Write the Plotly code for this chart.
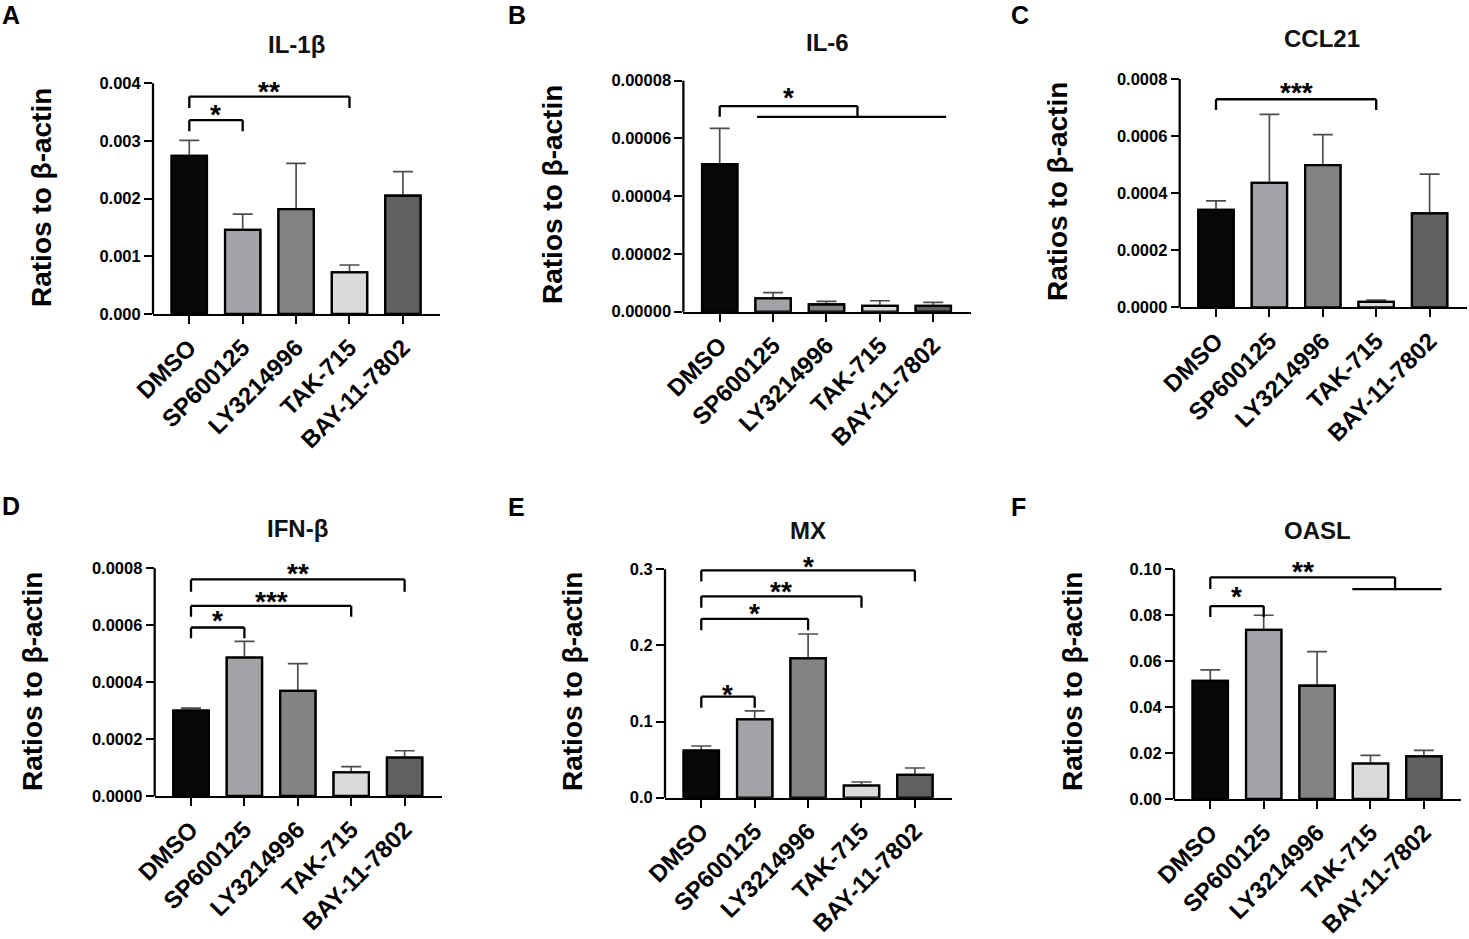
import plotly.graph_objects as go

W, H = 1469, 939
FONT = "Liberation Sans"

groups = ["DMSO", "SP600125", "LY3214996", "TAK-715", "BAY-11-7802"]
bar_colors = ["#070909", "#a3a3a7", "#828483", "#d9dbda", "#5f605f"]

# mean value and top of the error bar for each treatment
il1b_mean = [0.00274, 0.00146, 0.00182, 0.00072, 0.00205]
il1b_top = [0.00301, 0.00173, 0.00261, 0.00085, 0.00247]
il1b_ticks = [0, 0.001, 0.002, 0.003, 0.004]

il6_mean = [0.0000511, 0.0000046, 0.0000025, 0.0000020, 0.0000020]
il6_top = [0.0000635, 0.0000066, 0.0000036, 0.0000038, 0.0000032]
il6_ticks = [0, 0.00002, 0.00004, 0.00006, 0.00008]

ccl21_mean = [0.000341, 0.000436, 0.000498, 0.0000187, 0.000329]
ccl21_top = [0.000373, 0.000676, 0.000605, 0.000025, 0.000467]
ccl21_ticks = [0, 0.0002, 0.0004, 0.0006, 0.0008]

ifnb_mean = [0.000300, 0.000486, 0.000369, 0.0000832, 0.000135]
ifnb_top = [0.000309, 0.000543, 0.000465, 0.000103, 0.000159]
ifnb_ticks = [0, 0.0002, 0.0004, 0.0006, 0.0008]

mx_mean = [0.0618, 0.103, 0.183, 0.0158, 0.030]
mx_top = [0.0679, 0.114, 0.215, 0.0206, 0.039]
mx_ticks = [0, 0.1, 0.2, 0.3]

oasl_mean = [0.0514, 0.0736, 0.0493, 0.0154, 0.0186]
oasl_top = [0.0562, 0.080, 0.0642, 0.019, 0.0212]
oasl_ticks = [0, 0.02, 0.04, 0.06, 0.08, 0.10]

# significance brackets: (from, to, bracket y, leg end y, stars, star y)
il1b_sig = [(0, 1, 0.00336, 0.00317, "*", 0.00357),
            (0, 3, 0.00377, 0.00357, "**", 0.00397)]
il6_sig = [(0, 2.58, 0.0000712, 0.0000675, "*", 0.0000762)]
il6_group = [(0.70, 4.24, 0.0000675)]
ccl21_sig = [(0, 3, 0.000729, 0.000691, "***", 0.000775)]
ifnb_sig = [(0, 1, 0.000592, 0.000554, "*", 0.000636),
            (0, 3, 0.000668, 0.000630, "***", 0.000703),
            (0, 4, 0.000761, 0.000718, "**", 0.000802)]
mx_sig = [(0, 1, 0.1327, 0.118, "*", 0.144),
          (0, 2, 0.235, 0.220, "*", 0.250),
          (0, 3, 0.2645, 0.2496, "**", 0.279),
          (0, 4, 0.2987, 0.284, "*", 0.312)]
oasl_sig = [(0, 1, 0.084, 0.0792, "*", 0.0906),
            (0, 3.46, 0.0965, 0.0914, "**", 0.1015)]
oasl_group = [(2.66, 4.33, 0.0914)]

# pixel placement of each panel (DMSO bar centre, y=0 line, top tick)
panels = [
    dict(letter="A", title="IL-1β", mean=il1b_mean, top=il1b_top, ticks=il1b_ticks, fmt=".3f",
         sig=il1b_sig, grp=[], dmso=189.3, base=314, ytop=83.3,
         ytitle=(42, 198), title_xy=(296, 45), letter_xy=(11, 15)),
    dict(letter="B", title="IL-6", mean=il6_mean, top=il6_top, ticks=il6_ticks, fmt=".5f",
         sig=il6_sig, grp=il6_group, dmso=719.7, base=311.7, ytop=80.7,
         ytitle=(552, 195), title_xy=(827, 42), letter_xy=(517, 15)),
    dict(letter="C", title="CCL21", mean=ccl21_mean, top=ccl21_top, ticks=ccl21_ticks, fmt=".4f",
         sig=ccl21_sig, grp=[], dmso=1216, base=307.3, ytop=79,
         ytitle=(1057, 192), title_xy=(1322, 39), letter_xy=(1020, 15)),
    dict(letter="D", title="IFN-β", mean=ifnb_mean, top=ifnb_top, ticks=ifnb_ticks, fmt=".4f",
         sig=ifnb_sig, grp=[], dmso=191, base=796, ytop=568.3,
         ytitle=(32, 682), title_xy=(297, 528), letter_xy=(11, 506)),
    dict(letter="E", title="MX", mean=mx_mean, top=mx_top, ticks=mx_ticks, fmt=".1f",
         sig=mx_sig, grp=[], dmso=701.3, base=797.7, ytop=569.3,
         ytitle=(572, 682), title_xy=(808, 530), letter_xy=(516, 507)),
    dict(letter="F", title="OASL", mean=oasl_mean, top=oasl_top, ticks=oasl_ticks, fmt=".2f",
         sig=oasl_sig, grp=oasl_group, dmso=1210.3, base=799, ytop=569.3,
         ytitle=(1072, 682), title_xy=(1317, 530), letter_xy=(1018, 507)),
]

SPACING = 53.4
XR = [-0.68, 4.7]
EXT = 1.1
LW = 2.3

fig = go.Figure()
x = list(range(len(groups)))
black_line = dict(color="black", width=LW)


def paper(px, py):
    return px / W, 1 - py / H


for i, p in enumerate(panels, start=1):
    s = "" if i == 1 else str(i)
    xa, ya = "x" + s, "y" + s
    top_tick = p["ticks"][-1]

    left = p["dmso"] + XR[0] * SPACING
    right = p["dmso"] + XR[1] * SPACING
    top_px = p["base"] - (p["base"] - p["ytop"]) * EXT

    fig.update_layout({
        "xaxis" + s: dict(
            domain=[left / W, right / W], range=XR, anchor=ya, automargin=False,
            tickvals=x, ticktext=groups, tickangle=-45,
            tickfont=dict(family=FONT, size=24, color="black", weight="bold"),
            showline=True, linecolor="black", linewidth=LW,
            ticks="outside", ticklen=8, tickwidth=LW, tickcolor="black",
            showgrid=False, zeroline=False,
        ),
        "yaxis" + s: dict(
            domain=[1 - p["base"] / H, 1 - top_px / H], range=[0, top_tick * EXT], anchor=xa,
            automargin=False,
            tickvals=p["ticks"], ticktext=[format(v, p["fmt"]) for v in p["ticks"]],
            tickfont=dict(family=FONT, size=16.5, color="black", weight="bold"),
            ticks="outside", ticklen=8, tickwidth=LW, tickcolor="black",
            showline=False, showgrid=False, zeroline=False,
        ),
    })

    err = [t - m for t, m in zip(p["top"], p["mean"])]
    # error bars first, then the same bars again on top so only the upper whisker shows
    fig.add_trace(go.Bar(
        x=x, y=p["mean"], width=0.66, xaxis=xa, yaxis=ya,
        marker=dict(color=bar_colors, line=black_line),
        error_y=dict(type="data", symmetric=False, array=err, arrayminus=[0] * len(err),
                     color="#4d4d4d", thickness=1.7, width=10),
        hoverinfo="skip",
    ))
    fig.add_trace(go.Bar(
        x=x, y=p["mean"], width=0.66, xaxis=xa, yaxis=ya,
        marker=dict(color=bar_colors, line=black_line),
        hoverinfo="skip",
    ))

    # y axis line only up to the top tick
    fig.add_shape(type="line", xref=xa + " domain", yref=ya, x0=0, x1=0,
                  y0=-top_tick * 0.006, y1=top_tick, line=black_line)

    for x0, x1, yb, yl, stars, ys in p["sig"]:
        for (a, b, c, d) in [(x0, yl, x0, yb), (x0, yb, x1, yb), (x1, yb, x1, yl)]:
            fig.add_shape(type="line", xref=xa, yref=ya, x0=a, y0=b, x1=c, y1=d, line=black_line)
        fig.add_annotation(x=(x0 + x1) / 2, y=ys, xref=xa, yref=ya, text=stars,
                           showarrow=False, yshift=-6,
                           font=dict(family=FONT, size=28, color="black", weight="bold"))
    for g0, g1, gy in p["grp"]:
        fig.add_shape(type="line", xref=xa, yref=ya, x0=g0, y0=gy, x1=g1, y1=gy, line=black_line)

    lx, ly = paper(*p["letter_xy"])
    fig.add_annotation(x=lx, y=ly, xref="paper", yref="paper", xanchor="center", yanchor="middle",
                       text=p["letter"], showarrow=False,
                       font=dict(family=FONT, size=25, color="black", weight="bold"))
    tx, ty = paper(*p["title_xy"])
    fig.add_annotation(x=tx, y=ty, xref="paper", yref="paper", xanchor="center", yanchor="middle",
                       text=p["title"], showarrow=False,
                       font=dict(family=FONT, size=24, color="#111111", weight="bold"))
    yx, yy = paper(*p["ytitle"])
    fig.add_annotation(x=yx, y=yy, xref="paper", yref="paper", xanchor="center", yanchor="middle",
                       text="Ratios to β-actin", textangle=-90, showarrow=False,
                       font=dict(family=FONT, size=28, color="black", weight="bold"))

fig.update_layout(
    width=W, height=H,
    margin=dict(l=0, r=0, t=0, b=0, autoexpand=False),
    barmode="overlay",
    showlegend=False,
    plot_bgcolor="white",
    paper_bgcolor="white",
)

fig.write_html("out.html", config={"displayModeBar": False},
               post_script="document.body.style.margin='0';")
